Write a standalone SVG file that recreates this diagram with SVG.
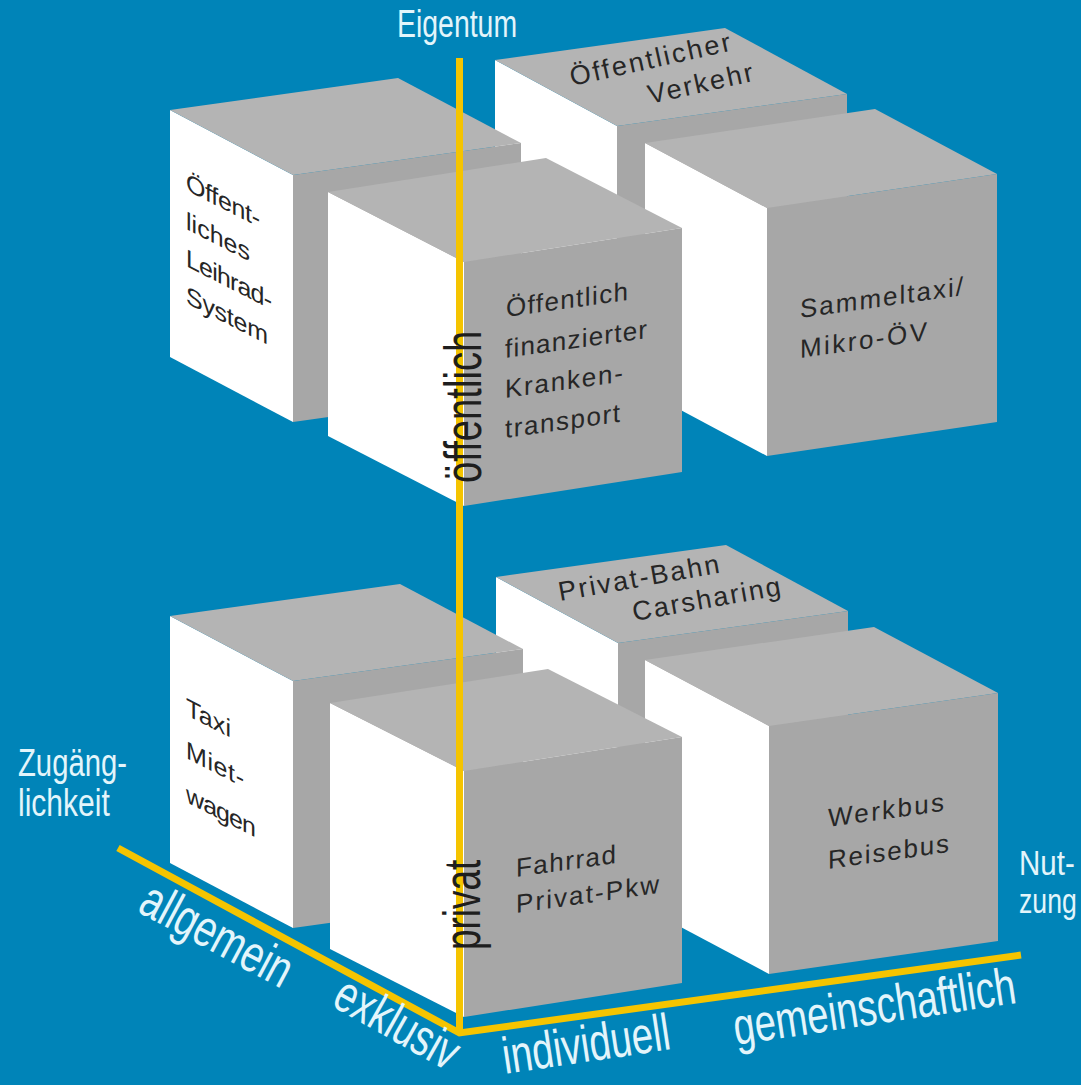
<svg xmlns="http://www.w3.org/2000/svg" width="1081" height="1085" viewBox="0 0 1081 1085">
<style>
.bg{fill:#0084b8}
.top{fill:#b4b4b4}
.lf{fill:#ffffff}
.rf{fill:#a7a7a7}
.lbl{font-family:"Liberation Sans",Arial,sans-serif;font-size:26px;fill:#262626}
.lbs{font-family:"Liberation Sans",Arial,sans-serif;font-size:25px;fill:#262626}
.lbt{font-family:"Liberation Sans",Arial,sans-serif;font-size:27px;fill:#262626}
.ax{font-family:"Liberation Sans",Arial,sans-serif;fill:#e3f5fb}
.axd{font-family:"Liberation Sans",Arial,sans-serif;fill:#1e1e1e}
.yl{stroke:#f5c400;stroke-width:7;fill:none}
</style>
<rect class="bg" x="0" y="0" width="1081" height="1085"/>

<!-- upper group -->
<g id="oeffentlicher-verkehr">
<polygon class="lf" points="495,60 617,126 617,373 495,307"/>
<polygon class="rf" points="617,126 847,94 847,341 617,373"/>
<polygon class="top" points="495,60 725,28 847,94 617,126"/>
<text class="lbt" transform="translate(572,86) rotate(-12.5)" textLength="164">Öffentlicher</text>
<text class="lbt" transform="translate(650,104) rotate(-12.5)" textLength="107">Verkehr</text>
</g>
<g id="leihrad-system">
<polygon class="lf" points="170,110 293,175 293,422 170,357"/>
<polygon class="rf" points="293,175 521,143 521,390 293,422"/>
<polygon class="top" points="170,110 398,78 521,143 293,175"/>
<text class="lbs" transform="translate(186,190) skewY(27)" textLength="74">Öffent-</text>
<text class="lbs" transform="translate(186,229) skewY(27)" textLength="64">liches</text>
<text class="lbs" transform="translate(186,266) skewY(27)" textLength="86">Leihrad-</text>
<text class="lbs" transform="translate(186,303) skewY(27)" textLength="82">System</text>
</g>
<g id="sammeltaxi">
<polygon class="lf" points="645,143 767,208 767,456 645,391"/>
<polygon class="rf" points="767,208 997,174 997,422 767,456"/>
<polygon class="top" points="645,143 875,109 997,174 767,208"/>
<text class="lbl" transform="translate(800,318) skewY(-8)" textLength="163">Sammeltaxi/</text>
<text class="lbl" transform="translate(800,358) skewY(-8)" textLength="127">Mikro-ÖV</text>
</g>
<g id="krankentransport">
<polygon class="lf" points="328,192 464,262 464,506 328,436"/>
<polygon class="rf" points="464,262 682,228 682,472 464,506"/>
<polygon class="top" points="328,192 546,158 682,228 464,262"/>
<text class="lbl" transform="translate(506,317) skewY(-8)" textLength="122">Öffentlich</text>
<text class="lbl" transform="translate(505,358) skewY(-8)" textLength="142">finanzierter</text>
<text class="lbl" transform="translate(505,398) skewY(-8)" textLength="118">Kranken-</text>
<text class="lbl" transform="translate(505,438) skewY(-8)" textLength="115">transport</text>
</g>

<!-- lower group -->
<g id="privat-bahn">
<polygon class="lf" points="496,577 618,643 618,890 496,824"/>
<polygon class="rf" points="618,643 848,611 848,858 618,890"/>
<polygon class="top" points="496,577 726,545 848,611 618,643"/>
<text class="lbt" transform="translate(560,601) rotate(-10)" textLength="163">Privat-Bahn</text>
<text class="lbt" transform="translate(634,621) rotate(-10)" textLength="150">Carsharing</text>
</g>
<g id="taxi">
<polygon class="lf" points="170,616 293,681 293,928 170,863"/>
<polygon class="rf" points="293,681 523,649 523,896 293,928"/>
<polygon class="top" points="170,616 400,584 523,649 293,681"/>
<text class="lbs" transform="translate(186,715) skewY(27)" textLength="45">Taxi</text>
<text class="lbs" transform="translate(186,758) skewY(27)" textLength="58">Miet-</text>
<text class="lbs" transform="translate(186,802) skewY(27)" textLength="70">wagen</text>
</g>
<g id="werkbus">
<polygon class="lf" points="645,660 769,726 769,974 645,908"/>
<polygon class="rf" points="769,726 998,693 998,941 769,974"/>
<polygon class="top" points="645,660 874,627 998,693 769,726"/>
<text class="lbl" transform="translate(828,827) skewY(-8)" textLength="116">Werkbus</text>
<text class="lbl" transform="translate(828,869) skewY(-8)" textLength="121">Reisebus</text>
</g>
<g id="fahrrad">
<polygon class="lf" points="330,703 464,771 464,1017 330,949"/>
<polygon class="rf" points="464,771 682,737 682,983 464,1017"/>
<polygon class="top" points="330,703 548,669 682,737 464,771"/>
<text class="lbl" transform="translate(516,877) skewY(-8)" textLength="100">Fahrrad</text>
<text class="lbl" transform="translate(516,913) skewY(-8)" textLength="143">Privat-Pkw</text>
</g>

<!-- axes -->
<g id="axes">
<line class="yl" x1="459.5" y1="58" x2="459.5" y2="1033"/>
<polyline class="yl" points="118,848 459.5,1033 1021,955" stroke-linejoin="miter"/>
</g>

<!-- axis labels (condensed via horizontal scale) -->
<g id="axis-labels">
<text class="ax" transform="translate(397,37) scale(0.748,1)" font-size="38">Eigentum</text>
<text class="ax" transform="translate(18,776) scale(0.77,1)" font-size="38">Zugäng-</text>
<text class="ax" transform="translate(18,816) scale(0.79,1)" font-size="38">lichkeit</text>
<text class="ax" transform="translate(1019,875) scale(0.82,1)" font-size="36">Nut-</text>
<text class="ax" transform="translate(1019,913) scale(0.74,1)" font-size="36">zung</text>
<text class="ax" transform="translate(136,911) rotate(28.2) scale(0.742,1)" font-size="52">allgemein</text>
<text class="ax" transform="translate(330,1005) rotate(29.5) scale(0.73,1)" font-size="52">exklusiv</text>
<text class="ax" transform="translate(505,1074) rotate(-8.5) scale(0.74,1)" font-size="52">individuell</text>
<text class="ax" transform="translate(736,1045) rotate(-8.5) scale(0.736,1)" font-size="52">gemeinschaftlich</text>
<text class="axd" transform="translate(481,483) rotate(-90) scale(0.735,1)" font-size="52">öffentlich</text>
<text class="axd" transform="translate(480,950) rotate(-90) scale(0.71,1)" font-size="52">privat</text>
</g>
</svg>
